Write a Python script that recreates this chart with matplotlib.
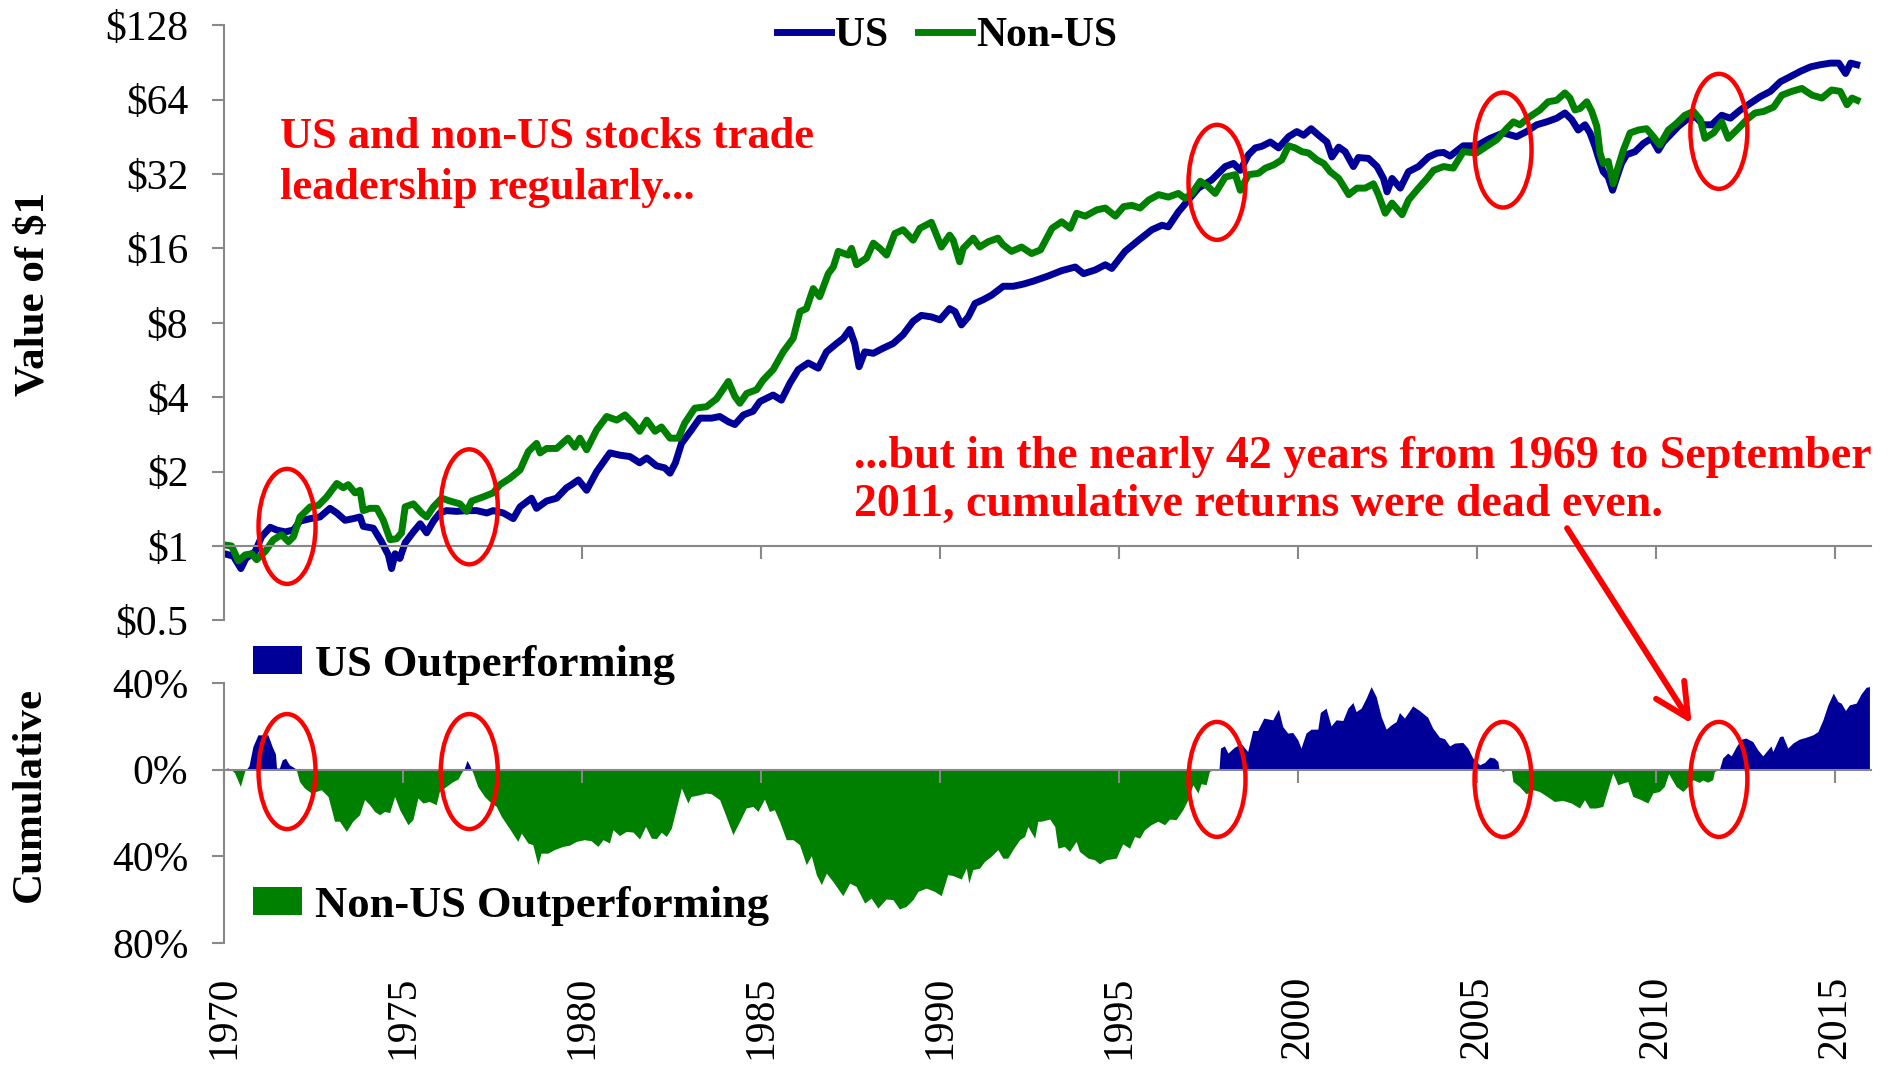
import matplotlib
matplotlib.use('Agg')
import numpy as np
import matplotlib.pyplot as plt
import matplotlib.transforms as mtransforms
from matplotlib.patches import Ellipse

plt.rcParams['font.family'] = ['Liberation Serif', 'DejaVu Serif']

# growth of $1
us_year = [1970.0, 1970.25, 1970.46, 1970.6, 1970.86, 1971.04, 1971.28, 1971.46, 1971.7, 1971.93,
           1972.11, 1972.4, 1972.67, 1972.95, 1973.14, 1973.37, 1973.6, 1973.79, 1973.88, 1974.16,
           1974.39, 1974.58, 1974.67, 1974.77, 1974.9, 1975.05, 1975.28, 1975.47, 1975.65, 1975.84,
           1976.02, 1976.2, 1976.49, 1976.77, 1977.05, 1977.33, 1977.51, 1977.79, 1978.07, 1978.26,
           1978.58, 1978.72, 1979.0, 1979.28, 1979.56, 1979.7, 1979.89, 1980.12, 1980.4, 1980.77,
           1981.05, 1981.33, 1981.6, 1981.8, 1982.07, 1982.3, 1982.45, 1982.6, 1982.77, 1983.05,
           1983.28, 1983.61, 1983.84, 1984.08, 1984.26, 1984.5, 1984.77, 1984.96, 1985.33, 1985.56,
           1985.8, 1986.03, 1986.31, 1986.59, 1986.82, 1987.1, 1987.29, 1987.47, 1987.61, 1987.73,
           1987.89, 1988.13, 1988.41, 1988.68, 1988.96, 1989.24, 1989.47, 1989.75, 1989.99, 1990.26,
           1990.41, 1990.59, 1990.78, 1990.97, 1991.2, 1991.43, 1991.76, 1992.04, 1992.32, 1992.6,
           1993.02, 1993.39, 1993.77, 1994.0, 1994.33, 1994.61, 1994.79, 1995.16, 1995.54, 1995.91,
           1996.19, 1996.37, 1996.65, 1996.93, 1997.21, 1997.58, 1997.96, 1998.19, 1998.38, 1998.61,
           1998.8, 1998.98, 1999.22, 1999.45, 1999.73, 1999.96, 2000.15, 2000.36, 2000.57, 2000.8,
           2000.94, 2001.13, 2001.31, 2001.54, 2001.68, 2001.96, 2002.2, 2002.38, 2002.48, 2002.62,
           2002.85, 2003.08, 2003.36, 2003.64, 2003.88, 2004.06, 2004.24, 2004.61, 2004.98, 2005.36,
           2005.73, 2006.1, 2006.38, 2006.66, 2006.94, 2007.22, 2007.45, 2007.64, 2007.82, 2008.01,
           2008.15, 2008.29, 2008.38, 2008.52, 2008.66, 2008.78, 2008.9, 2009.03, 2009.17, 2009.41,
           2009.64, 2009.87, 2010.06, 2010.2, 2010.38, 2010.62, 2010.85, 2011.09, 2011.32, 2011.55,
           2011.83, 2012.07, 2012.35, 2012.63, 2012.91, 2013.19, 2013.47, 2013.75, 2014.03, 2014.31,
           2014.59, 2014.87, 2015.1, 2015.29, 2015.43, 2015.6]
us_value = [0.93, 0.91, 0.81, 0.89, 0.95, 1.09, 1.19, 1.16, 1.14, 1.16,
            1.26, 1.29, 1.31, 1.42, 1.36, 1.27, 1.29, 1.31, 1.20, 1.18,
            1.04, 0.92, 0.81, 0.93, 0.89, 1.03, 1.14, 1.23, 1.13, 1.26,
            1.36, 1.39, 1.38, 1.39, 1.39, 1.36, 1.39, 1.36, 1.29, 1.44,
            1.56, 1.42, 1.52, 1.56, 1.72, 1.77, 1.85, 1.68, 2.00, 2.38,
            2.33, 2.30, 2.17, 2.27, 2.11, 2.07, 1.97, 2.17, 2.60, 2.95,
            3.29, 3.29, 3.34, 3.18, 3.10, 3.39, 3.51, 3.84, 4.08, 3.89,
            4.56, 5.17, 5.50, 5.24, 6.10, 6.59, 6.92, 7.52, 6.59, 5.31,
            6.10, 6.02, 6.32, 6.59, 7.16, 8.11, 8.57, 8.45, 8.22, 9.13,
            8.88, 7.84, 8.45, 9.58, 9.92, 10.34, 11.24, 11.24, 11.47, 11.79,
            12.38, 13.0, 13.45, 12.64, 13.09, 13.74, 13.27, 15.56, 17.27, 19.03,
            19.84, 19.56, 22.47, 25.1, 28.05, 30.27, 34.3, 35.3, 33.1, 38.3,
            40.8, 41.4, 43.1, 40.8, 45.3, 47.5, 45.9, 48.8, 45.9, 43.1,
            37.5, 41.1, 39.4, 34.3, 37.3, 37.0, 34.3, 30.7, 27.1, 30.7,
            28.05, 32.7, 34.3, 37.5, 38.9, 39.1, 37.8, 41.6, 41.6, 44.6,
            46.9, 45.3, 47.5, 50.6, 52.0, 53.8, 56.5, 53.1, 48.2, 50.6,
            46.9, 41.4, 37.5, 32.7, 31.1, 27.5, 31.1, 35.3, 38.3, 39.4,
            42.5, 44.6, 39.9, 43.1, 45.9, 49.9, 53.1, 54.6, 50.6, 50.6,
            55.3, 53.8, 58.1, 61.8, 65.8, 69.1, 75.6, 79.3, 83.3, 86.8,
            88.6, 89.9, 89.9, 81.6, 89.9, 88.6]

nonus_year = [1970.0, 1970.2, 1970.39, 1970.58, 1970.76, 1970.9, 1971.14, 1971.37, 1971.6, 1971.79,
              1971.93, 1972.11, 1972.4, 1972.63, 1972.86, 1973.14, 1973.32, 1973.46, 1973.65, 1973.79,
              1973.88, 1974.07, 1974.26, 1974.44, 1974.63, 1974.81, 1974.95, 1975.05, 1975.28, 1975.51,
              1975.65, 1975.84, 1976.07, 1976.3, 1976.58, 1976.77, 1976.91, 1977.23, 1977.51, 1977.7,
              1977.98, 1978.26, 1978.49, 1978.72, 1978.82, 1979.0, 1979.28, 1979.6, 1979.79, 1979.93,
              1980.12, 1980.4, 1980.68, 1980.96, 1981.19, 1981.42, 1981.6, 1981.8, 1982.03, 1982.21,
              1982.45, 1982.68, 1982.86, 1983.14, 1983.47, 1983.75, 1984.08, 1984.26, 1984.4, 1984.59,
              1984.87, 1985.05, 1985.33, 1985.61, 1985.89, 1986.08, 1986.26, 1986.45, 1986.63, 1986.87,
              1987.01, 1987.15, 1987.43, 1987.52, 1987.66, 1987.94, 1988.13, 1988.31, 1988.5, 1988.73,
              1988.96, 1989.24, 1989.43, 1989.75, 1990.03, 1990.26, 1990.36, 1990.54, 1990.64, 1990.92,
              1991.1, 1991.33, 1991.61, 1991.75, 1991.99, 1992.27, 1992.55, 1992.8, 1993.12, 1993.39,
              1993.63, 1993.81, 1994.05, 1994.37, 1994.61, 1994.89, 1995.12, 1995.35, 1995.58, 1995.82,
              1996.1, 1996.37, 1996.65, 1996.84, 1997.03, 1997.26, 1997.44, 1997.68, 1997.96, 1998.24,
              1998.38, 1998.61, 1998.89, 1999.08, 1999.31, 1999.54, 1999.73, 1999.91, 2000.1, 2000.29,
              2000.52, 2000.71, 2000.89, 2001.13, 2001.41, 2001.64, 2001.87, 2002.1, 2002.24, 2002.43,
              2002.62, 2002.9, 2003.08, 2003.36, 2003.6, 2003.78, 2004.06, 2004.33, 2004.61, 2004.98,
              2005.26, 2005.54, 2005.82, 2006.01, 2006.19, 2006.47, 2006.75, 2006.98, 2007.22, 2007.45,
              2007.59, 2007.73, 2007.87, 2008.06, 2008.2, 2008.34, 2008.43, 2008.52, 2008.66, 2008.8,
              2008.94, 2009.08, 2009.27, 2009.5, 2009.73, 2009.92, 2010.1, 2010.34, 2010.57, 2010.8,
              2011.04, 2011.23, 2011.36, 2011.6, 2011.83, 2012.01, 2012.25, 2012.53, 2012.76, 2013.0,
              2013.28, 2013.51, 2013.79, 2014.07, 2014.35, 2014.63, 2014.9, 2015.14, 2015.33, 2015.47,
              2015.61]
nonus_value = [1.01, 1.0, 0.87, 0.92, 0.93, 0.88, 0.95, 1.06, 1.11, 1.04,
               1.09, 1.31, 1.44, 1.46, 1.58, 1.79, 1.72, 1.77, 1.64, 1.68,
               1.39, 1.42, 1.42, 1.27, 1.06, 1.07, 1.13, 1.44, 1.48, 1.36,
               1.31, 1.44, 1.56, 1.52, 1.48, 1.38, 1.52, 1.58, 1.64, 1.77,
               1.88, 2.03, 2.41, 2.60, 2.38, 2.48, 2.48, 2.73, 2.51, 2.73,
               2.45, 2.95, 3.34, 3.23, 3.39, 3.14, 2.91, 3.23, 2.91, 3.03,
               2.73, 2.73, 3.14, 3.61, 3.66, 3.94, 4.63, 4.03, 3.78, 4.14,
               4.29, 4.69, 5.17, 6.10, 6.92, 8.88, 9.13, 11.0, 10.2, 12.64,
               13.45, 15.56, 15.03, 16.0, 13.74, 14.62, 16.8, 16.0, 15.03, 18.38,
               19.03, 17.27, 19.29, 20.4, 16.2, 18.1, 17.27, 14.12, 16.0, 17.6,
               16.2, 17.0, 17.6, 16.56, 15.56, 16.2, 15.24, 15.78, 19.29, 20.5,
               19.29, 22.2, 21.6, 22.9, 23.3, 21.6, 23.6, 23.9, 23.3, 25.1,
               26.4, 25.8, 26.7, 25.5, 26.7, 29.9, 28.8, 26.7, 31.1, 31.8,
               27.5, 31.8, 32.2, 33.8, 34.8, 36.5, 41.6, 40.8, 39.4, 38.9,
               36.5, 35.3, 32.7, 30.7, 26.4, 28.05, 28.05, 29.2, 26.4, 22.2,
               24.4, 21.9, 25.1, 28.05, 30.7, 33.1, 34.3, 33.8, 39.4, 38.9,
               41.4, 44.0, 48.8, 52.0, 50.6, 54.6, 58.1, 62.7, 63.6, 68.1,
               64.9, 58.1, 58.9, 62.7, 57.3, 49.9, 38.9, 35.3, 36.0, 29.2,
               34.3, 39.9, 46.9, 48.2, 48.8, 45.3, 41.9, 48.2, 51.3, 55.3,
               57.3, 53.1, 44.6, 46.9, 52.0, 44.6, 48.2, 53.1, 56.5, 57.3,
               59.7, 66.7, 69.1, 71.0, 66.7, 64.9, 70.0, 69.1, 61.0, 64.9,
               63.6]

# cumulative relative return (US vs non-US), percent
rel_year = [1970.0, 1970.1, 1970.2, 1970.3, 1970.46, 1970.58, 1970.7, 1970.81, 1970.95, 1971.23,
            1971.35, 1971.44, 1971.47, 1971.55, 1971.63, 1971.72, 1971.83, 1971.95, 1972.02, 1972.11,
            1972.25, 1972.44, 1972.72, 1972.91, 1973.09, 1973.23, 1973.42, 1973.6, 1973.79, 1973.93,
            1974.07, 1974.21, 1974.35, 1974.49, 1974.63, 1974.77, 1974.91, 1975.14, 1975.28, 1975.42,
            1975.56, 1975.74, 1975.93, 1976.02, 1976.21, 1976.4, 1976.54, 1976.63, 1976.72, 1976.79,
            1976.86, 1976.91, 1976.96, 1977.09, 1977.28, 1977.42, 1977.61, 1977.75, 1977.84, 1978.03,
            1978.21, 1978.31, 1978.49, 1978.63, 1978.77, 1978.86, 1979.05, 1979.24, 1979.47, 1979.66,
            1979.84, 1980.07, 1980.26, 1980.45, 1980.59, 1980.77, 1980.87, 1981.05, 1981.24, 1981.43,
            1981.61, 1981.78, 1981.94, 1982.08, 1982.22, 1982.36, 1982.5, 1982.64, 1982.78, 1982.96,
            1983.05, 1983.29, 1983.47, 1983.61, 1983.85, 1984.03, 1984.22, 1984.41, 1984.59, 1984.78,
            1984.92, 1985.1, 1985.24, 1985.38, 1985.52, 1985.71, 1985.9, 1986.08, 1986.27, 1986.41,
            1986.55, 1986.69, 1986.83, 1987.01, 1987.29, 1987.48, 1987.66, 1987.9, 1988.08, 1988.27,
            1988.5, 1988.69, 1988.87, 1989.06, 1989.25, 1989.39, 1989.62, 1989.85, 1990.04, 1990.22,
            1990.36, 1990.6, 1990.74, 1990.81, 1990.92, 1991.11, 1991.25, 1991.43, 1991.62, 1991.76,
            1991.9, 1992.04, 1992.23, 1992.37, 1992.46, 1992.55, 1992.65, 1992.74, 1992.83, 1993.07,
            1993.21, 1993.3, 1993.48, 1993.62, 1993.81, 1993.9, 1994.14, 1994.32, 1994.46, 1994.65,
            1994.93, 1995.11, 1995.3, 1995.44, 1995.58, 1995.72, 1995.9, 1996.09, 1996.28, 1996.42,
            1996.6, 1996.79, 1996.93, 1997.07, 1997.21, 1997.3, 1997.44, 1997.53, 1997.63, 1997.8,
            1997.84, 1997.95, 1998.05, 1998.23, 1998.42, 1998.6, 1998.74, 1998.88, 1999.05, 1999.3,
            1999.46, 1999.58, 1999.72, 1999.86, 2000.0, 2000.09, 2000.23, 2000.37, 2000.56, 2000.63,
            2000.79, 2000.93, 2001.07, 2001.26, 2001.4, 2001.54, 2001.63, 2001.77, 2001.91, 2002.05,
            2002.19, 2002.33, 2002.47, 2002.61, 2002.75, 2002.84, 2002.98, 2003.21, 2003.4, 2003.63,
            2003.77, 2003.96, 2004.1, 2004.24, 2004.38, 2004.61, 2004.75, 2004.89, 2005.08, 2005.22,
            2005.36, 2005.49, 2005.59, 2005.62, 2005.73, 2005.85, 2005.96, 2006.01, 2006.19, 2006.38,
            2006.57, 2006.75, 2006.94, 2007.17, 2007.4, 2007.64, 2007.87, 2008.01, 2008.15, 2008.33,
            2008.52, 2008.66, 2008.8, 2008.94, 2009.08, 2009.22, 2009.36, 2009.55, 2009.78, 2009.92,
            2010.1, 2010.24, 2010.36, 2010.57, 2010.76, 2010.9, 2011.04, 2011.22, 2011.31, 2011.45,
            2011.59, 2011.64, 2011.78, 2011.87, 2012.01, 2012.11, 2012.25, 2012.39, 2012.52, 2012.71,
            2012.85, 2012.99, 2013.13, 2013.22, 2013.27, 2013.46, 2013.55, 2013.69, 2013.83, 2014.01,
            2014.2, 2014.39, 2014.53, 2014.67, 2014.81, 2014.96, 2015.09, 2015.18, 2015.3, 2015.41,
            2015.6, 2015.74, 2015.88, 2015.97]
rel_pct = [0, 0.5, 0, -1.8, -8, -1, 1.5, 10.4, 15.8, 15.8,
           10.4, 7.0, 0.5, 0.5, 4.3, 5.0, 2.0, 0.8, 0, -5.7,
           -8.7, -11, -9.5, -12.6, -24, -24, -28.7, -24, -21, -14,
           -16.4, -19.5, -21, -19.5, -20, -12.6, -18.7, -25.6, -23.3, -13.3,
           -15.6, -14.9, -16.4, -10.3, -8, -5.7, -4.6, -1.8, 0.5, 4.0,
           2.0, 0, -1.8, -8, -12.6, -14.9, -17.2, -21.8, -24, -28.7,
           -33.3, -29.5, -34, -34.8, -44, -38.7, -38.7, -37, -35.6, -35,
           -33.3, -32.5, -33, -35.6, -32.5, -34, -27.9, -30.6, -28.7, -29,
           -32.2, -26.4, -31.8, -32, -29.1, -31, -27.2, -17.9, -8.7, -15.6,
           -12.6, -11.8, -11, -11.3, -14.1, -21.8, -30.2, -24, -17.9, -17.2,
           -19.5, -13.8, -19.5, -18.7, -24, -32.5, -32.5, -34.8, -44, -39.9,
           -48.6, -53.2, -47.9, -51.7, -58.3, -52.5, -54, -61.7, -59.4, -64,
           -59.8, -60.1, -64.4, -63.2, -60.1, -56.3, -54.8, -56.3, -58.3, -48.6,
           -49, -50.6, -45.6, -52.5, -46.3, -45.6, -42.5, -40.2, -37.1, -41,
           -41, -37.1, -32.5, -31, -26.4, -29, -31.8, -24, -24, -23,
           -26.4, -36.4, -35.6, -37.9, -33.3, -37.9, -41, -41.7, -43.6, -41.7,
           -41, -34.4, -36.4, -31, -31.8, -27.9, -25.6, -24, -25.6, -23,
           -23.3, -18.7, -14.1, -7.2, -11, -6.7, -7.2, -1.1, -0.3, 0,
           9.7, 10.7, 7.4, 10.1, 11.7, 8.1, 17.8, 17.8, 23.5, 22.7,
           27.6, 19.6, 16.6, 16.9, 13.5, 9.7, 16.6, 18.4, 18.4, 26.1,
           28.1, 19.9, 22.7, 22.4, 28.1, 30.7, 26.5, 28.1, 32.7, 38,
           33.4, 24.2, 18.4, 20.4, 21.9, 26.1, 23.5, 29.1, 27, 23.9,
           18.9, 14.7, 14, 10.7, 12, 12.3, 9.7, 5.1, 2, 3.1,
           5.5, 5.1, 3.5, 0, -1.1, 0, 0, -5.7, -8, -11.4,
           -9.5, -10.3, -12.3, -14.9, -14.4, -15.6, -17.9, -14.1, -17.9, -17.9,
           -17.2, -9.5, -1.8, -7.2, -6.4, -5.7, -12.6, -13.8, -15.6, -11,
           -10.3, -8, -2.1, -8, -10.3, -8, -4.9, -6.1, -5, -6,
           -4.9, -1.1, 0, 5.1, 7.4, 6.1, 10.4, 13.8, 14.3, 12.7,
           8.9, 6.1, 8.9, 10.7, 8.1, 15, 15.3, 9.7, 12, 13.8,
           14.7, 15.8, 17.3, 22.7, 29.6, 35, 31.1, 30.4, 27, 29.6,
           30.4, 34.7, 37.7, 38]

year_ticks = list(range(1970, 2016, 5))
value_ticks = [0.5, 1, 2, 4, 8, 16, 32, 64, 128]
value_labels = ['$0.5', '$1', '$2', '$4', '$8', '$16', '$32', '$64', '$128']
pct_ticks = [-80, -40, 0, 40]
pct_labels = ['80%', '40%', '0%', '40%']

# leadership changes that get circled
circle_years = [1971.75, 1976.84, 1997.73, 2005.72, 2011.75]
circle_value = [1.2, 1.44, 29.6, 40.0, 47.6]
circle_pct = [-0.9, -0.9, -4.5, -4.5, -4.5]

BLUE = '#000099'
GREEN = '#008000'
GRAY = '#888888'
RED = '#ff0000'

fig = plt.figure(figsize=(18.92, 10.67), dpi=100)
ax1 = fig.add_axes([0.1186, 0.4186, 0.8703, 0.5578])
ax2 = fig.add_axes([0.1186, 0.1159, 0.8703, 0.2442])

# top: value of $1
ax1.plot(us_year, us_value, color=BLUE, lw=5, label='US', solid_joinstyle='round')
ax1.plot(nonus_year, nonus_value, color=GREEN, lw=5, label='Non-US', solid_joinstyle='round')
ax1.set_yscale('log', base=2)
ax1.set_yticks(value_ticks, value_labels)
ax1.minorticks_off()
ax1.set_ylim(0.5, 128)
ax1.set_xlim(1970, 2016)

# bottom: cumulative relative performance
rel_year_arr = np.array(rel_year)
rel_pct_arr = np.array(rel_pct)
fill_us = ax2.fill_between(rel_year_arr, rel_pct_arr, 0, where=rel_pct_arr >= 0,
                           interpolate=True, color=BLUE, lw=0)
fill_non = ax2.fill_between(rel_year_arr, rel_pct_arr, 0, where=rel_pct_arr <= 0,
                            interpolate=True, color=GREEN, lw=0)
ax2.set_yticks(pct_ticks, pct_labels)
ax2.set_ylim(-80, 40)
ax2.set_xlim(1970, 2016)

for ax in (ax1, ax2):
    ax.spines[['top', 'right']].set_visible(False)
    for side in ('left', 'bottom'):
        ax.spines[side].set_color(GRAY)
        ax.spines[side].set_linewidth(1.5)
    ax.set_xticks(year_ticks)
    ax.tick_params(axis='x', direction='out', length=9, width=1.5, color=GRAY, labelbottom=False)
    ax.tick_params(axis='y', direction='out', length=9, width=1.5, color=GRAY, pad=17, labelsize=30)

ax1.spines['bottom'].set_position(('data', 1))
ax2.spines['bottom'].set_position(('data', 0))

years_axis = ax2.secondary_xaxis('bottom')
years_axis.set_xticks(year_ticks, [str(y) for y in year_ticks])
years_axis.spines['bottom'].set_visible(False)
years_axis.tick_params(length=0, pad=23, labelsize=30, labelrotation=90)

ax1.set_ylabel('Value of $1', fontsize=31, fontweight='bold', va='center')
ax1.yaxis.set_label_coords(-0.1156, 0.548)
ax2.set_ylabel('Cumulative', fontsize=31, fontweight='bold', va='center')
ax2.yaxis.set_label_coords(-0.118, 0.573)

# legends
ax1.legend(loc='center', bbox_to_anchor=(0.5005, 0.966), bbox_transform=fig.transFigure,
           ncol=2, frameon=False, prop={'weight': 'bold', 'size': 30},
           handlelength=1.3, handletextpad=0.1, columnspacing=0.7, borderpad=0)
leg_us = ax2.legend([fill_us], ['US Outperforming'], loc='center left',
                    bbox_to_anchor=(0.0174, 1.069), frameon=False,
                    prop={'weight': 'bold', 'size': 32}, handlelength=1.1,
                    handleheight=0.57, handletextpad=0.3, borderpad=0, borderaxespad=0)
ax2.add_artist(leg_us)
ax2.legend([fill_non], ['Non-US Outperforming'], loc='center left',
           bbox_to_anchor=(0.0174, 0.144), frameon=False,
           prop={'weight': 'bold', 'size': 32}, handlelength=1.1,
           handleheight=0.57, handletextpad=0.3, borderpad=0, borderaxespad=0)

# red circles around the crossovers
for yr, val, pct in zip(circle_years, circle_value, circle_pct):
    for ax, yv in ((ax1, val), (ax2, pct)):
        trans = fig.dpi_scale_trans + mtransforms.ScaledTranslation(yr, yv, ax.transData)
        ax.add_patch(Ellipse((0, 0), 0.57, 1.15, transform=trans, fill=False,
                             edgecolor=RED, lw=3.2, zorder=5, clip_on=False))

# va='baseline' pins the last line, so y is the second line's baseline
fig.text(0.148, 0.8135, 'US and non-US stocks trade\nleadership regularly...',
         color=RED, fontsize=32, fontweight='bold', ha='left', va='baseline', linespacing=1.36)
fig.text(0.4514, 0.5164, '...but in the nearly 42 years from 1969 to September\n'
         '2011, cumulative returns were dead even.',
         color=RED, fontsize=33, fontweight='bold', ha='left', va='baseline', linespacing=1.2)

ax2.annotate('', xy=(2010.99, 21.2), xycoords='data', xytext=(2007.51, 1.18),
             textcoords=ax1.transData, annotation_clip=False,
             arrowprops=dict(arrowstyle='->,head_length=1.2,head_width=0.6', color=RED,
                             lw=4.3, mutation_scale=20, shrinkA=0, shrinkB=0))

fig.savefig('out.png', dpi=100)
